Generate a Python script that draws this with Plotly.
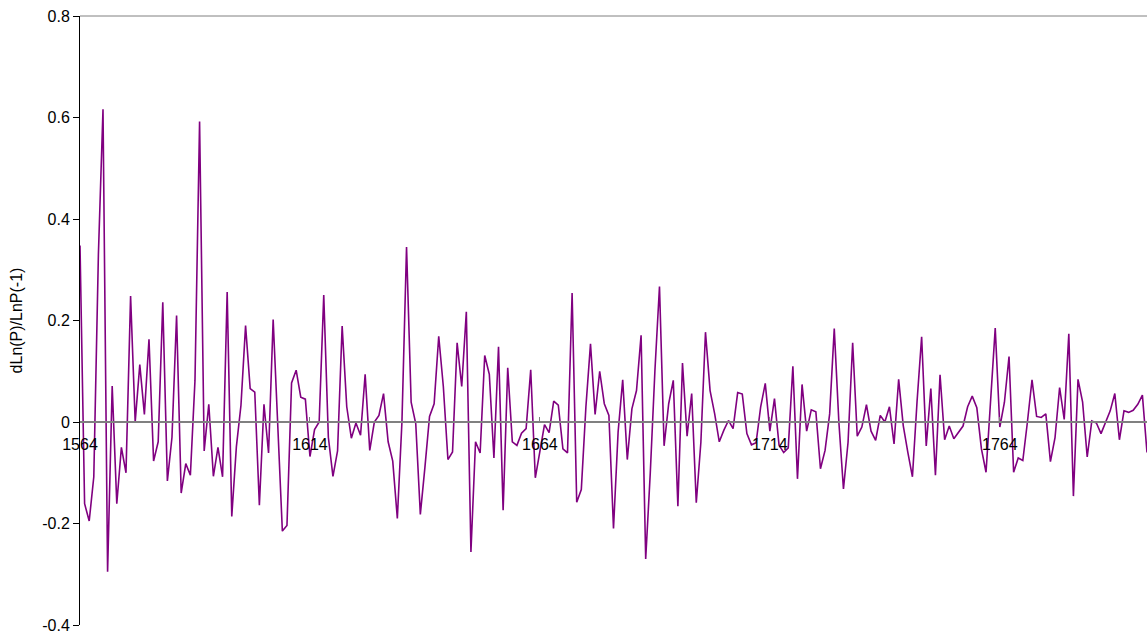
import plotly.graph_objects as go

years = list(range(1564, 1797))
values = [
    0.348, -0.161, -0.195, -0.108, 0.33, 0.616, -0.295, 0.071, -0.161, -0.05,
    -0.10, 0.248, 0.0, 0.113, 0.015, 0.163, -0.077, -0.039, 0.236, -0.116,
    -0.03, 0.21, -0.14, -0.082, -0.105, 0.082, 0.592, -0.057, 0.035, -0.107,
    -0.05, -0.108, 0.256, -0.186, -0.049, 0.033, 0.19, 0.066, 0.059, -0.164,
    0.035, -0.061, 0.202, -0.01, -0.215, -0.204, 0.077, 0.102, 0.049, 0.045,
    -0.068, -0.015, 0.0, 0.25, -0.03, -0.107, -0.057, 0.189, 0.03, -0.032,
    -0.002, -0.026, 0.094, -0.056, 0.0, 0.013, 0.056, -0.039, -0.077, -0.19,
    0.0, 0.345, 0.039, -0.003, -0.182, -0.089, 0.011, 0.036, 0.169, 0.07,
    -0.074, -0.059, 0.156, 0.07, 0.217, -0.256, -0.039, -0.061, 0.131, 0.094,
    -0.071, 0.148, -0.174, 0.107, -0.039, -0.046, -0.022, -0.013, 0.103, -0.11,
    -0.053, -0.005, -0.021, 0.041, 0.033, -0.053, -0.061, 0.254, -0.158, -0.133,
    0.03, 0.154, 0.015, 0.1, 0.036, 0.013, -0.21, -0.02, 0.083, -0.074,
    0.026, 0.062, 0.171, -0.27, -0.1, 0.1, 0.267, -0.047, 0.036, 0.082,
    -0.166, 0.116, -0.028, 0.056, -0.159, -0.04, 0.177, 0.062, 0.016, -0.039,
    -0.016, 0.003, -0.013, 0.058, 0.055, -0.023, -0.045, -0.041, 0.03, 0.076,
    -0.018, 0.046, -0.046, -0.06, -0.051, 0.11, -0.112, 0.074, -0.018, 0.024,
    0.02, -0.092, -0.056, 0.016, 0.184, 0.0, -0.132, -0.04, 0.156, -0.028,
    -0.01, 0.034, -0.018, -0.036, 0.013, 0.0, 0.03, -0.043, 0.084, -0.007,
    -0.06, -0.108, 0.04, 0.168, -0.047, 0.066, -0.105, 0.093, -0.035, -0.008,
    -0.033, -0.02, -0.008, 0.03, 0.051, 0.028, -0.053, -0.099, 0.05, 0.185,
    -0.01, 0.039, 0.129, -0.099, -0.071, -0.076, 0.0, 0.083, 0.011, 0.009,
    0.016, -0.078, -0.031, 0.068, 0.005, 0.174, -0.146, 0.084, 0.039, -0.069,
    0.002, -0.002, -0.023, 0.0, 0.022, 0.056, -0.035, 0.022, 0.019, 0.023,
    0.035, 0.053, -0.06,
]

x_tick_vals = [1564, 1614, 1664, 1714, 1764]
x_tick_text = ["1564", "1614", "1664", "1714", "1764"]
y_tick_vals = [-0.4, -0.2, 0, 0.2, 0.4, 0.6, 0.8]
y_tick_text = ["-0.4", "-0.2", "0", "0.2", "0.4", "0.6", "0.8"]
y_title = "dLn(P)/LnP(-1)"

fig = go.Figure()
fig.add_trace(go.Scatter(
    x=years, y=values, mode="lines",
    line=dict(color="#800080", width=1.6),
    hoverinfo="skip", showlegend=False,
))

font = dict(family="Liberation Sans, Arial, sans-serif", size=16, color="#000000")

fig.update_layout(
    width=1147, height=635,
    margin=dict(l=80, r=0, t=16, b=10),
    paper_bgcolor="white", plot_bgcolor="white",
    font=font,
    xaxis=dict(
        range=[years[0], years[-1]],
        anchor="free", position=1/3,
        showline=True, linecolor="#808080", linewidth=1.5,
        tickvals=x_tick_vals, ticktext=x_tick_text,
        ticks="inside", ticklen=4, tickcolor="#808080",
        ticklabelstandoff=8,
        showgrid=False, zeroline=False,
        tickfont=dict(size=16),
    ),
    yaxis=dict(
        range=[-0.4, 0.8],
        tickvals=y_tick_vals, ticktext=y_tick_text,
        showline=True, linecolor="#000000", linewidth=1,
        ticks="outside", ticklen=6, tickcolor="#000000",
        showgrid=False, zeroline=False,
        title=dict(text=y_title, font=dict(size=16), standoff=15),
        tickfont=dict(size=16),
    ),
    shapes=[dict(type="line", xref="paper", yref="paper",
                 x0=0, x1=1, y0=1, y1=1,
                 line=dict(color="#808080", width=1))],
)

fig.write_html("out.html", config={"displayModeBar": False},
               post_script="document.body.style.margin='0';")
